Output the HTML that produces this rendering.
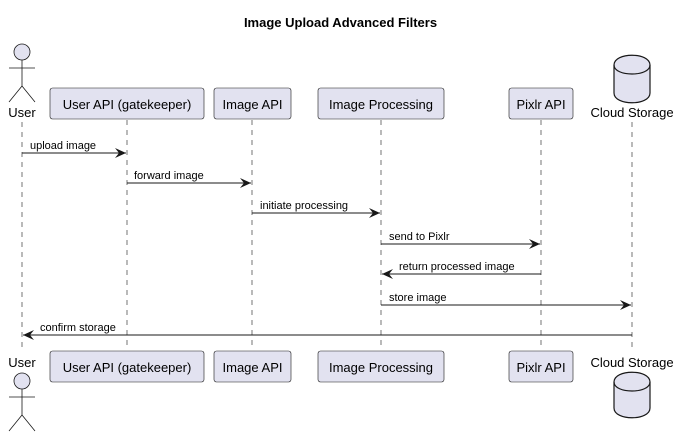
<!DOCTYPE html>
<html><head><style>body{margin:0;background:#fff}svg{display:block}text{font-family:"Liberation Sans",sans-serif;fill:#000}</style></head>
<body>
<svg width="681" height="434" viewBox="0 0 681 434" xmlns="http://www.w3.org/2000/svg">
<text x="340.5" y="27" font-size="13" font-weight="bold" text-anchor="middle">Image Upload Advanced Filters</text>
<g stroke="#181818" stroke-width="0.6" stroke-dasharray="5,5">
<line x1="22" y1="122" x2="22" y2="350"/>
<line x1="127" y1="120" x2="127" y2="350"/>
<line x1="252" y1="120" x2="252" y2="350"/>
<line x1="381" y1="120" x2="381" y2="350"/>
<line x1="541" y1="120" x2="541" y2="350"/>
<line x1="632" y1="122" x2="632" y2="350"/>
</g>
<g fill="#E2E2F0" stroke="#181818" stroke-width="0.6">
<rect x="50" y="88" width="154" height="31" rx="2.5"/>
<rect x="214" y="88" width="77" height="31" rx="2.5"/>
<rect x="318" y="88" width="126" height="31" rx="2.5"/>
<rect x="509" y="88" width="64" height="31" rx="2.5"/>
<rect x="50" y="351" width="154" height="31" rx="2.5"/>
<rect x="214" y="351" width="77" height="31" rx="2.5"/>
<rect x="318" y="351" width="126" height="31" rx="2.5"/>
<rect x="509" y="351" width="64" height="31" rx="2.5"/>
</g>
<g font-size="13" text-anchor="middle">
<text x="127" y="109">User API (gatekeeper)</text>
<text x="252.5" y="109">Image API</text>
<text x="381" y="109">Image Processing</text>
<text x="541" y="109">Pixlr API</text>
<text x="127" y="372">User API (gatekeeper)</text>
<text x="252.5" y="372">Image API</text>
<text x="381" y="372">Image Processing</text>
<text x="541" y="372">Pixlr API</text>
<text x="22" y="117">User</text>
<text x="632" y="117">Cloud Storage</text>
<text x="22" y="367">User</text>
<text x="632" y="367">Cloud Storage</text>
</g>
<g fill="#E2E2F0" stroke="#181818" stroke-width="0.8">
<circle cx="22" cy="52" r="8"/>
<path d="M22 60V86M9 68H35M9 102L22 86L35 102" fill="none"/>
<circle cx="22" cy="381" r="8"/>
<path d="M22 389V415M9 397H35M9 431L22 415L35 431" fill="none"/>
</g>
<g fill="#E2E2F0" stroke="#181818" stroke-width="1.2">
<path d="M614 65 C614 52 650 52 650 65 V93 C650 106 614 106 614 93 Z"/>
<path d="M614 65 C614 77 650 77 650 65" fill="none"/>
<path d="M614 382 C614 369 650 369 650 382 V408 C650 421 614 421 614 408 Z"/>
<path d="M614 382 C614 394 650 394 650 382" fill="none"/>
</g>
<defs><marker id="a" markerWidth="12" markerHeight="10" refX="11" refY="5" orient="auto" markerUnits="userSpaceOnUse"><path d="M0 0L11 5L0 10L4 5Z" fill="#181818"/></marker></defs>
<g stroke="#181818" stroke-width="1" marker-end="url(#a)">
<line x1="22" y1="153" x2="126" y2="153"/>
<line x1="127" y1="183" x2="251" y2="183"/>
<line x1="252" y1="213" x2="380" y2="213"/>
<line x1="381" y1="244" x2="540" y2="244"/>
<line x1="541" y1="274" x2="382" y2="274"/>
<line x1="381" y1="305" x2="631" y2="305"/>
<line x1="632" y1="335" x2="23" y2="335"/>
</g>
<g font-size="11">
<text x="30" y="149">upload image</text>
<text x="134" y="179">forward image</text>
<text x="260" y="209">initiate processing</text>
<text x="389" y="240">send to Pixlr</text>
<text x="399" y="270">return processed image</text>
<text x="389" y="301">store image</text>
<text x="40" y="331">confirm storage</text>
</g>
</svg>
</body></html>
